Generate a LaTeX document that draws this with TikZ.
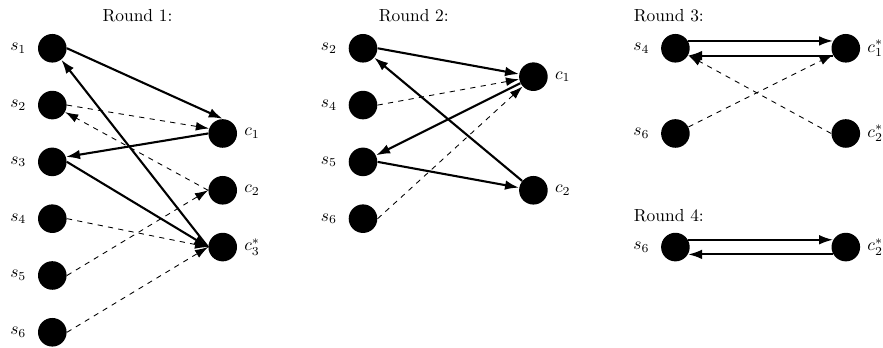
\documentclass[tikz,border=0pt]{standalone}
\usepackage{tikz}
\usetikzlibrary{arrows.meta}

\begin{document}
\begin{tikzpicture}[x=1.145cm, y=1.145cm,
        player/.style={circle, fill=black, minimum size=16.4pt, inner sep=0pt},
        snode/.style={player, label={[label distance=3pt]left:$s_{#1}$}},
        cnode/.style={player, label={[label distance=0.5pt]right:$c#1$}},
        move/.style={-{Latex[length=8pt,width=5.5pt]}, very thick},
        probe/.style={-{Latex[length=7.5pt,width=5pt]}, line width=0.5pt, dashed}]

                \useasboundingbox (-0.921,-5.276) rectangle (14.625,0.85);

                %% Round 1
                \node[anchor=base] (title1) at (1.5,0.468) {Round 1:};
                \node[snode=1] (r1s1) at (0,0)  {};
                \node[snode=2] (r1s2) at (0,-1) {};
                \node[snode=3] (r1s3) at (0,-2) {};
                \node[snode=4] (r1s4) at (0,-3) {};
                \node[snode=5] (r1s5) at (0,-4) {};
                \node[snode=6] (r1s6) at (0,-5) {};
                \node[cnode={_1}]   (r1c1) at (3,-1.5) {};
                \node[cnode={_2}]   (r1c2) at (3,-2.5) {};
                \node[cnode={_3^*}] (r1c3) at (3,-3.5) {};

                \draw[move] (r1s1.east) -- (r1c1.north);
                \draw[move] (r1c1.west) -- (r1s3.20);
                \draw[move] (r1s3.east) -- (r1c3.west);
                \draw[move] (r1c3.west) -- (r1s1);
                \draw[probe] (r1s2.east) -- (r1c1.160);
                \draw[probe] (r1c2.west) -- (r1s2);
                \draw[probe] (r1s4.east) -- (r1c3.west);
                \draw[probe] (r1s5.east) -- (r1c2.west);
                \draw[probe] (r1s6.east) -- (r1c3.west);

                %% Round 2
                \node[anchor=base west] (title2) at (5.64,0.468) {Round 2:};
                \node[snode=2] (r2s2) at (5.47,0)  {};
                \node[snode=4] (r2s4) at (5.47,-1) {};
                \node[snode=5] (r2s5) at (5.47,-2) {};
                \node[snode=6] (r2s6) at (5.47,-3) {};
                \node[cnode={_1}] (r2c1) at (8.47,-0.5) {};
                \node[cnode={_2}] (r2c2) at (8.47,-2.5) {};

                \draw[move] (r2s2.east) -- (r2c1);
                \draw[move] (r2c2) -- (r2s2);
                \draw[move] (r2c1) -- (r2s5);
                \draw[move] (r2s5.east) -- (r2c2);
                \draw[probe] (r2s4.east) -- (r2c1);
                \draw[probe] (r2s6.east) -- (r2c1);

                %% Round 3
                \node[anchor=base west] (title3) at (10.13,0.468) {Round 3:};
                \node[snode=4] (r3s4) at (10.97,0)    {};
                \node[snode=6] (r3s6) at (10.97,-1.5) {};
                \node[cnode={_1^*}] (r3c1) at (13.97,0)    {};
                \node[cnode={_2^*}] (r3c2) at (13.97,-1.5) {};

                \draw[move] (r3s4.30) -- (r3c1.150);
                \draw[move] (r3c1.-150) -- (r3s4.-30);
                \draw[probe] (r3s6) -- (r3c1);
                \draw[probe] (r3c2.west) -- (r3s4);

                %% Round 4
                \node[anchor=base west] (title4) at (10.13,-3.053) {Round 4:};
                \node[snode=6] (r4s6) at (10.97,-3.5) {};
                \node[cnode={_2^*}] (r4c2) at (13.97,-3.5) {};

                \draw[move] (r4s6.30) -- (r4c2.150);
                \draw[move] (r4c2.-150) -- (r4s6.-30);

\end{tikzpicture}
\end{document}
